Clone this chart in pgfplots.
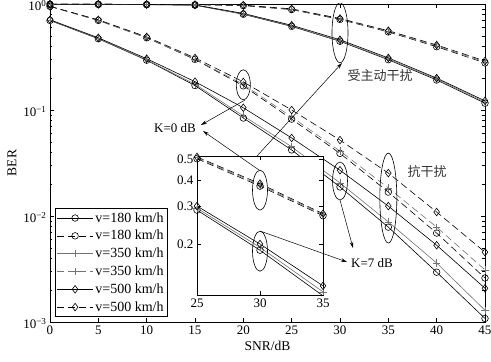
\documentclass[border=0pt]{standalone}
\usepackage{fontspec}
\setmainfont{Liberation Serif}
\newfontfamily\cjk{Noto Sans CJK SC}
\usepackage{pgfplots}
\pgfplotsset{compat=1.18}
\usetikzlibrary{arrows.meta}
\begin{document}
\begin{tikzpicture}[font=\fontsize{13}{15}\selectfont]
\path[use as bounding box] (0,0) rectangle (491pt,362pt);
\pgfplotsset{
  vA/.style={black, line width=0.6pt, mark=o, mark size=3.3pt},
  vB/.style={black!55, line width=0.6pt, mark=+, mark size=3.6pt},
  vC/.style={black, line width=0.6pt, mark=diamond, mark size=3.8pt},
  sl/.style={solid, mark options={solid}},
  ds/.style={dash pattern=on 7pt off 4pt, mark options={solid}},
}
\begin{axis}[
  at={(50pt,40pt)}, anchor=south west, scale only axis,
  width=435pt, height=318pt,
  xmin=0, xmax=45, ymode=log, ymin=1e-3, ymax=1,
  xtick={0,5,...,45}, ytick={1e-3,1e-2,1e-1,1},
  yticklabels={10\textsuperscript{−3},10\textsuperscript{−2},10\textsuperscript{−1},10\textsuperscript{0}},
  yticklabel style={yshift=-1.5pt},
  /pgf/number format/assume math mode=true,
  xlabel={SNR/dB}, ylabel={BER},
  tick label style={font=\fontsize{13}{15}\selectfont},
  label style={font=\fontsize{13.5}{15}\selectfont},
  axis line style={line width=0.6pt}, tick style={black, line width=0.5pt},
  major tick length=4pt, minor tick length=2.5pt,
  legend style={at={(0.0115,0.0157)}, anchor=south west, font=\fontsize{14}{16}\selectfont,
    draw=black, line width=0.6pt, inner xsep=1.5pt, inner ysep=2pt, row sep=2.6pt, cells={anchor=west}},
  legend image code/.code={\draw[mark repeat=2,mark phase=2] plot coordinates {(0pt,0pt)(18pt,0pt)(36pt,0pt)};},
]
% anti-interference, solid (K=7 dB)
\addplot[vA,sl] coordinates {(0,0.70)(5,0.47)(10,0.295)(15,0.170)(20,0.084)(25,0.042)(30,0.0188)(35,0.00785)(40,0.00295)(45,0.00108)};
\addlegendentry{v=180 km/h}
% anti-interference, dashed (K=0 dB)
\addplot[vA,ds] coordinates {(0,0.95)(5,0.70)(10,0.48)(15,0.300)(20,0.169)(25,0.082)(30,0.039)(35,0.0168)(40,0.0069)(45,0.0026)};
\addlegendentry{v=180 km/h}
\addplot[vB,sl] coordinates {(0,0.70)(5,0.473)(10,0.298)(15,0.175)(20,0.088)(25,0.045)(30,0.0205)(35,0.0088)(40,0.0036)(45,0.00129)};
\addlegendentry{v=350 km/h}
\addplot[vB,ds] coordinates {(0,0.95)(5,0.70)(10,0.48)(15,0.303)(20,0.174)(25,0.086)(30,0.041)(35,0.0184)(40,0.00785)(45,0.0031)};
\addlegendentry{v=350 km/h}
\addplot[vC,sl] coordinates {(0,0.71)(5,0.48)(10,0.305)(15,0.185)(20,0.105)(25,0.0545)(30,0.027)(35,0.0124)(40,0.0053)(45,0.00208)};
\addlegendentry{v=500 km/h}
\addplot[vC,ds] coordinates {(0,0.95)(5,0.71)(10,0.49)(15,0.310)(20,0.184)(25,0.100)(30,0.052)(35,0.0254)(40,0.0109)(45,0.00456)};
\addlegendentry{v=500 km/h}
% under active interference
\addplot[vA,sl,forget plot] coordinates {(0,0.99)(5,0.99)(10,0.985)(15,0.975)(20,0.80)(25,0.615)(30,0.445)(35,0.298)(40,0.192)(45,0.116)};
\addplot[vB,sl,forget plot] coordinates {(0,0.99)(5,0.99)(10,0.987)(15,0.977)(20,0.805)(25,0.62)(30,0.45)(35,0.303)(40,0.196)(45,0.119)};
\addplot[vC,sl,forget plot] coordinates {(0,0.995)(5,0.995)(10,0.99)(15,0.98)(20,0.815)(25,0.63)(30,0.46)(35,0.31)(40,0.20)(45,0.122)};
\addplot[vA,ds,forget plot] coordinates {(0,0.995)(5,0.995)(10,0.99)(15,0.985)(20,0.965)(25,0.885)(30,0.715)(35,0.545)(40,0.395)(45,0.278)};
\addplot[vB,ds,forget plot] coordinates {(0,0.995)(5,0.995)(10,0.99)(15,0.985)(20,0.97)(25,0.892)(30,0.722)(35,0.552)(40,0.402)(45,0.284)};
\addplot[vC,ds,forget plot] coordinates {(0,0.995)(5,0.995)(10,0.99)(15,0.985)(20,0.975)(25,0.90)(30,0.73)(35,0.56)(40,0.41)(45,0.29)};
% ellipses
\draw[line width=0.6pt] (axis cs:30,0.535) ellipse [x radius=8pt, y radius=30pt];
\draw[line width=0.6pt] (axis cs:20,0.173) ellipse [x radius=7pt, y radius=15pt];
\draw[line width=0.6pt] (axis cs:35,0.01476) ellipse [x radius=8.5pt, y radius=45pt];
\draw[line width=0.6pt] (axis cs:30,0.0214) ellipse [x radius=7.5pt, y radius=19pt];
\end{axis}
% inset
\begin{axis}[
  at={(197pt,67pt)}, anchor=south west, scale only axis,
  width=126pt, height=139pt,
  xmin=25, xmax=35, ymode=log, ymin=0.115, ymax=0.52,
  xtick={25,30,35}, ytick={0.2,0.3,0.4,0.5}, yticklabels={0.2,0.3,0.4,0.5},
  /pgf/number format/assume math mode=true,
  axis background/.style={fill=white},
  tick label style={font=\fontsize{13}{15}\selectfont},
  axis line style={line width=0.6pt}, tick style={black, line width=0.5pt},
  major tick length=4pt, minor tick length=2.5pt,
]
\addplot[vA,ds] coordinates {(25,0.505)(30,0.375)(35,0.272)};
\addplot[vB,ds] coordinates {(25,0.51)(30,0.38)(35,0.275)};
\addplot[vC,ds] coordinates {(25,0.515)(30,0.385)(35,0.278)};
\addplot[vA,sl] coordinates {(25,0.289)(30,0.187)(35,0.114)};
\addplot[vB,sl] coordinates {(25,0.295)(30,0.193)(35,0.119)};
\addplot[vC,sl] coordinates {(25,0.302)(30,0.200)(35,0.127)};
\draw[line width=0.6pt] (axis cs:30,0.359) ellipse [x radius=7.5pt, y radius=20pt];
\draw[line width=0.6pt] (axis cs:30,0.185) ellipse [x radius=7.5pt, y radius=20pt];
\end{axis}
% arrows and labels
\begin{scope}[line width=0.5pt, -{Stealth[length=6pt,width=3.5pt]}]
\draw (257pt,206pt) -- (342pt,299pt);
\draw (245pt,262pt) -- (201pt,237pt);
\draw (259pt,192pt) -- (203pt,231pt);
\draw (340pt,162pt) -- (353pt,114pt);
\draw (260pt,131pt) -- (347pt,100pt);
\end{scope}
\node[font=\cjk\fontsize{13}{15}\selectfont, text=black!80] at (380pt,286pt) {受主动干扰};
\node[font=\cjk\fontsize{13}{15}\selectfont, text=black!80] at (427pt,190pt) {抗干扰};
\node at (175pt,234pt) {K=0 dB};
\node at (372pt,99pt) {K=7 dB};
\end{tikzpicture}
\end{document}
